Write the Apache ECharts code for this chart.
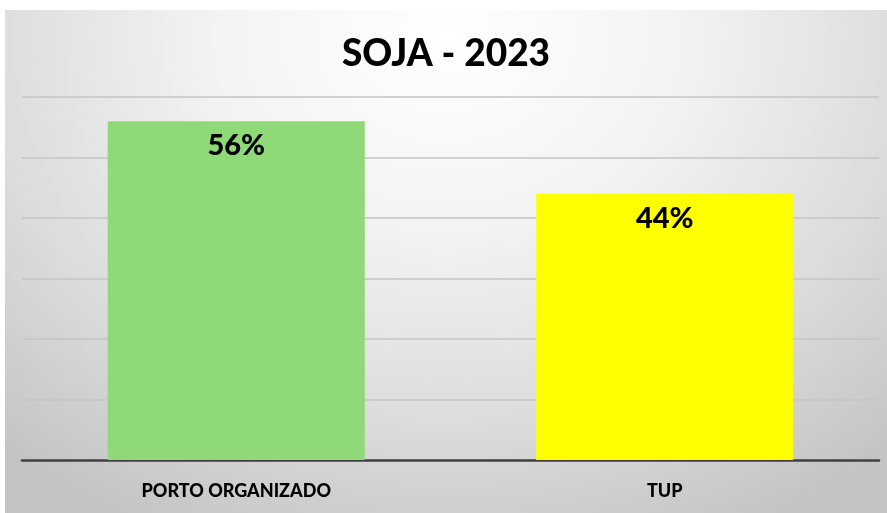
<!DOCTYPE html>
<html>
<head>
<meta charset="utf-8">
<script src="https://cdn.jsdelivr.net/npm/echarts@6/dist/echarts.min.js"></script>
<style>
  html, body { margin: 0; padding: 0; background: #fff; }
  #wrap { position: relative; width: 887px; height: 513px; background: #fff; }
  #chart {
    position: absolute; left: 5px; top: 10px; width: 882px; height: 503px;
    background: radial-gradient(ellipse 75% 110% at 50% 5%, #ffffff 0%, #f3f3f3 35%, #dcdcdc 70%, #c4c4c4 100%);
  }
</style>
</head>
<body>
<div id="wrap"><div id="chart"></div></div>
<script>
const categories = ["PORTO ORGANIZADO", "TUP"];
const shares = [56, 44];
const barColors = ["#8FD979", "#FFFF00"];

const chart = echarts.init(document.getElementById("chart"));
chart.setOption({
  animation: false,
  title: {
    text: "SOJA - 2023",
    left: "center",
    top: 21,
    textStyle: { fontFamily: "Lato", fontWeight: 900, fontSize: 37, color: "#000" },
  },
  grid: { left: 17, right: 8, top: 87, bottom: 53 },
  xAxis: {
    type: "category",
    data: categories,
    axisLine: { lineStyle: { color: "#404040", width: 2.5 } },
    axisTick: { show: false },
    axisLabel: { margin: 22, fontFamily: "Lato", fontWeight: 900, fontSize: 18, color: "#000" },
  },
  yAxis: {
    type: "value",
    min: 0,
    max: 60,
    interval: 10,
    axisLabel: { show: false },
    axisLine: { show: false },
    axisTick: { show: false },
    splitLine: { lineStyle: { color: "#c4c4c4", width: 1.5 } },
  },
  series: [
    {
      type: "bar",
      barWidth: "60%",
      data: shares.map((v, i) => ({ value: v, itemStyle: { color: barColors[i] } })),
      label: {
        show: true,
        position: "insideTop",
        distance: 10,
        formatter: "{c}%",
        fontFamily: "Lato",
        fontWeight: 900,
        fontSize: 29,
        color: "#000",
      },
    },
  ],
});
</script>
</body>
</html>
